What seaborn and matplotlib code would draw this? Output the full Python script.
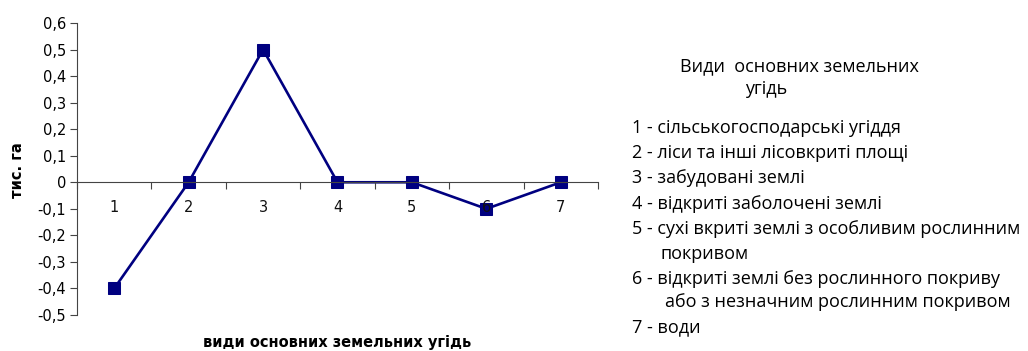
import matplotlib
matplotlib.use("Agg")
import matplotlib.pyplot as plt
import seaborn as sns
import pandas as pd
import numpy as np

# Change in area of the main land types, thousand hectares
categories = [1, 2, 3, 4, 5, 6, 7]
values = [-0.4, 0.0, 0.5, 0.0, 0.0, -0.1, 0.0]
y_ticks = [0.6, 0.5, 0.4, 0.3, 0.2, 0.1, 0.0, -0.1, -0.2, -0.3, -0.4, -0.5]

legend_title = "Види  основних земельних"
legend_title2 = "угідь"
legend_items = [
    "1 - сільськогосподарські угіддя",
    "2 - ліси та інші лісовкриті площі",
    "3 - забудовані землі",
    "4 - відкриті заболочені землі",
    "5 - сухі вкриті землі з особливим рослинним",
    "покривом",
    "6 - відкриті землі без рослинного покриву",
    "або з незначним рослинним покривом",
    "7 - води",
]

sns.set_theme(style="white")
plt.rcParams["font.family"] = ["DejaVu Sans"]
plt.rcParams["text.color"] = "black"

df = pd.DataFrame({"type": categories, "value": values})

fig = plt.figure(figsize=(10.28, 3.51), dpi=100)
ax = fig.add_axes([77 / 1028, 1 - 315 / 351, (598 - 77) / 1028, (315 - 23) / 351])

sns.lineplot(data=df, x="type", y="value", ax=ax, color="#000080",
             marker="s", markersize=8.5, markeredgecolor="#000080",
             linewidth=1.9, zorder=2)
# tick labels sit above the series, as the "6" over its marker shows
ax.set_axisbelow(False)

ax.set_xlim(0.5, 7.5)
ax.set_ylim(-0.5, 0.6)

# y axis
ax.set_yticks(y_ticks)
ax.set_yticklabels(["0" if v == 0 else f"{v:.1f}".replace(".", ",") for v in y_ticks],
                   fontsize=10.5, color="black")
ax.tick_params(axis="y", which="major", direction="out", length=5, width=0.8,
               color="#444444", pad=3, left=True)

# x axis through zero with boundary tick marks
for s in ["top", "right"]:
    ax.spines[s].set_visible(False)
ax.spines["bottom"].set_position(("data", 0))
for s in ["left", "bottom"]:
    ax.spines[s].set_color("#444444")
    ax.spines[s].set_linewidth(0.8)
ax.set_xticks(categories)
ax.set_xticklabels([str(c) for c in categories], fontsize=10.5, color="#111111")
ax.set_xticks(np.arange(0.5, 8.0, 1.0), minor=True)
ax.tick_params(axis="x", which="major", length=0, pad=13)
ax.tick_params(axis="x", which="minor", direction="out", length=5, width=0.8,
               color="#444444", bottom=True)

ax.set_xlabel("")
ax.set_ylabel("")
fig.text(337 / 1028, 1 - 342 / 351, "види основних земельних угідь",
         ha="center", va="center", fontsize=10.5, fontweight="bold", color="black")
fig.text(18 / 1028, 1 - 170 / 351, "тис. га", ha="center", va="center",
         rotation=90, fontsize=10.5, fontweight="bold", color="black")

# category description block
lfont = ["Open Sans", "DejaVu Sans"]
fs = 13
fig.text(680 / 1028, 1 - 66 / 351, legend_title, ha="left", va="center",
         fontsize=fs, family=lfont, color="black")
fig.text(745 / 1028, 1 - 89 / 351, legend_title2, ha="left", va="center",
         fontsize=fs, family=lfont, color="black")
rows = [(632, 128), (632, 153), (632, 178), (632, 204), (632, 229), (660, 254),
        (632, 279), (665, 302), (632, 327)]
for (x, y), t in zip(rows, legend_items):
    fig.text(x / 1028, 1 - y / 351, t, ha="left", va="center",
             fontsize=fs, family=lfont, color="black")

fig.savefig("out.png", dpi=100)
